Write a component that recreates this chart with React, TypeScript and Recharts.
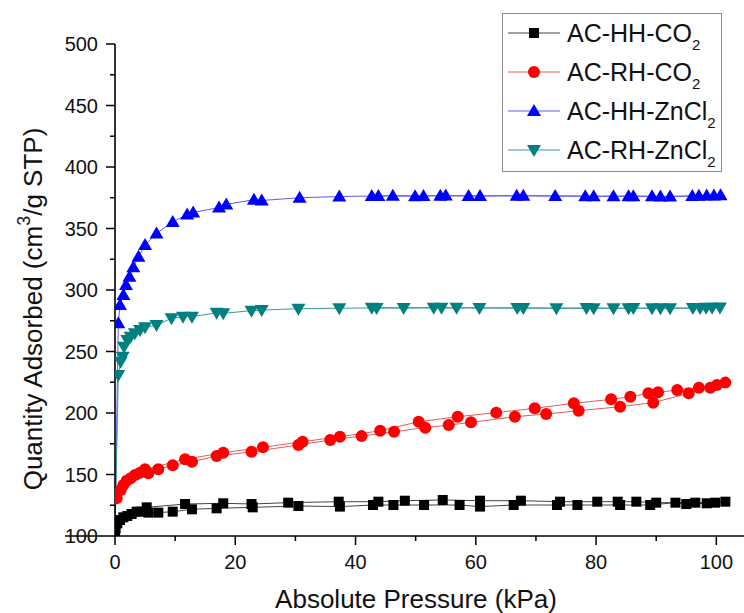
import React from 'react'
import { LineChart, Line, XAxis, YAxis } from 'recharts'

// isotherm points: [pressure kPa, quantity cm3/g STP]
// adsorption branch first, then the desorption branch back down
const acHhCo2: [number, number][] = [
  [0.02, 102], [0.1, 106.2], [0.39, 110.3], [0.83, 113], [1.39, 115.2], [2.05, 116.3],
  [2.77, 117.9], [3.6, 119.8], [4.4, 119.8], [5.55, 119], [7.2, 119], [9.6, 119.8],
  [12.8, 121.7], [16.9, 122.5], [22.9, 123.3], [30.5, 124.4], [37.4, 123.9], [42.9, 125.2],
  [46.3, 125.2], [51.4, 125.2], [57.3, 125.2], [60.7, 123.9], [66.3, 125.2], [73.5, 125.2],
  [76.9, 125.2], [84.0, 125.2], [89.0, 125.2], [93.2, 127.1], [95.0, 126], [98.4, 126.6],
  [101.5, 127.9], [99.8, 127.1], [96.5, 127.1], [90.0, 127.1], [86.7, 127.9], [83.6, 127.9],
  [80.2, 127.9], [74.0, 127.9], [67.5, 128.7], [60.7, 128.7], [54.5, 129.3], [48.2, 128.7],
  [43.8, 127.9], [37.2, 127.9], [28.8, 127.1], [22.7, 126], [18.0, 126.6], [11.65, 126],
  [5.27, 123.3],
]

const acRhCo2: [number, number][] = [
  [0.28, 130.6], [0.95, 137.4], [1.39, 141.5], [1.94, 145], [2.6, 146.9], [3.33, 149.6],
  [4.16, 151.5], [5.55, 151], [7.2, 154.2], [9.6, 157.5], [12.8, 160.4], [16.9, 165],
  [22.7, 168.5], [30.5, 174], [35.8, 178], [41.0, 181.2], [46.4, 184.8], [51.6, 188.1],
  [55.5, 190.2], [59.2, 192.4], [66.5, 197], [71.7, 199.2], [77.1, 201.9], [84.0, 205.1],
  [89.5, 208.4], [95.4, 216], [99.0, 220.6], [101.5, 224.7], [100.1, 222.8], [97.1, 220.6],
  [93.5, 218.7], [90.3, 216.8], [88.7, 216], [85.7, 213.3], [82.5, 211.1], [76.3, 207.9],
  [69.8, 203.8], [63.4, 200.3], [57.0, 197], [50.5, 192.9], [44.1, 185.6], [37.4, 180.7],
  [31.2, 176.7], [24.6, 172.1], [18.0, 167.7], [11.65, 162.4], [4.99, 154.2],
]

const acHhZnCl2: [number, number][] = [
  [0.01, 105], [0.55, 273], [0.83, 287.8], [1.4, 296], [1.83, 304], [2.4, 310.8],
  [3.05, 318.5], [3.9, 327], [5.0, 336.6], [6.9, 346], [9.6, 355.3], [12.0, 361.4],
  [13.0, 363], [17.3, 367.1], [18.5, 369.6], [23.1, 373.4], [24.4, 372.8], [30.7, 375],
  [37.3, 376], [43.8, 376.5], [49.9, 376.3], [54.1, 376.6], [58.8, 376.5], [66.8, 376.6],
  [73.2, 376.4], [78.2, 376.3], [82.9, 376.2], [86.2, 376.3], [90.7, 376], [96.0, 376.5],
  [98.4, 376.8], [100.7, 377], [99.6, 376.8], [97.1, 376.6], [92.3, 376], [89.3, 376.2],
  [85.4, 376.3], [79.6, 376.2], [67.9, 376.7], [60.7, 376.4], [55.0, 376.8], [51.3, 376.5],
  [46.2, 376.7], [42.7, 376.4],
]

const acRhZnCl2: [number, number][] = [
  [0.01, 104], [0.55, 230.9], [0.94, 241.7], [1.28, 245.8], [1.5, 253.9], [2.05, 259.3],
  [2.6, 262], [3.3, 264.8], [4.16, 267.5], [4.99, 269.7], [6.9, 271.5], [9.4, 277],
  [11.3, 278.3], [12.8, 278.3], [16.9, 281.5], [18.0, 281], [22.7, 283.2], [24.4, 283.7],
  [30.5, 284.8], [37.3, 285.2], [43.5, 285.4], [48.0, 285.3], [54.3, 285.5], [60.6, 285.4],
  [67.9, 285.3], [73.4, 285.2], [79.6, 285.2], [85.4, 285.1], [89.3, 285.2], [92.3, 285.2],
  [97.3, 285.4], [99.3, 285.6], [100.6, 285.8], [98.3, 285.5], [96.1, 285.3], [90.7, 285.2],
  [86.2, 285.3], [82.9, 285.2], [78.4, 285.3], [66.9, 285.4], [56.8, 285.5], [53.0, 285.6],
  [42.7, 285.5],
]

const xTicks = [0, 10, 20, 30, 40, 50, 60, 70, 80, 90, 100]
const yTicks = [100, 125, 150, 175, 200, 225, 250, 275, 300, 325, 350, 375, 400, 425, 450, 475, 500]

const FONT = '"Liberation Sans", Arial, sans-serif'

type Shape = 'square' | 'circle' | 'up' | 'down'

const series = [
  { key: 'hhco2', name: 'AC-HH-CO', sub: '2', points: acHhCo2, color: '#000000', line: '#444444', shape: 'square' as Shape, hideFirst: false },
  { key: 'rhco2', name: 'AC-RH-CO', sub: '2', points: acRhCo2, color: '#ff0000', line: '#e85a5a', shape: 'circle' as Shape, hideFirst: false },
  { key: 'hhzn', name: 'AC-HH-ZnCl', sub: '2', points: acHhZnCl2, color: '#0000ff', line: '#5a5aff', shape: 'up' as Shape, hideFirst: true },
  { key: 'rhzn', name: 'AC-RH-ZnCl', sub: '2', points: acRhZnCl2, color: '#008080', line: '#3a9a9a', shape: 'down' as Shape, hideFirst: true },
]

function Marker({ shape, cx, cy, color }: { shape: Shape; cx: number; cy: number; color: string }) {
  if (shape === 'square') return <rect x={cx - 5} y={cy - 5} width={10} height={10} fill={color} />
  if (shape === 'circle') return <circle cx={cx} cy={cy} r={6} fill={color} />
  if (shape === 'up')
    return <polygon points={`${cx},${cy - 7} ${cx - 7},${cy + 5} ${cx + 7},${cy + 5}`} fill={color} />
  return <polygon points={`${cx - 7},${cy - 5} ${cx + 7},${cy - 5} ${cx},${cy + 7}`} fill={color} />
}

const makeDot = (shape: Shape, color: string, hideFirst: boolean) => (props: any) => {
  const { cx, cy, index } = props
  if (cx == null || cy == null || (hideFirst && index === 0)) return <g key={`${shape}-${index}`} />
  return (
    <g key={`${shape}-${index}`}>
      <Marker shape={shape} cx={cx} cy={cy} color={color} />
    </g>
  )
}

const XTick = (props: any) => {
  const { x, y, payload } = props
  const major = payload.value % 20 === 0
  return (
    <g>
      <line x1={x} x2={x} y1={y} y2={y + (major ? 9 : 5)} stroke="#000" strokeWidth={1.5} />
      {major && (
        <text x={x} y={y + 33} textAnchor="middle" fontSize={20} fontFamily={FONT} fill="#111">
          {payload.value}
        </text>
      )}
    </g>
  )
}

const YTick = (props: any) => {
  const { x, y, payload } = props
  const major = payload.value % 50 === 0
  return (
    <g>
      <line x1={x - (payload.value === 100 ? 50 : major ? 9 : 5)} x2={x} y1={y} y2={y} stroke="#000" strokeWidth={1.5} />
      {major && (
        <text x={x - 17} y={y + 7} textAnchor="end" fontSize={20} fontFamily={FONT} fill="#111">
          {payload.value}
        </text>
      )}
    </g>
  )
}

const LegendBox = () => {
  const rows = [20, 59, 98, 137]
  return (
    <svg width={221} height={160} style={{ position: 'absolute', left: 502, top: 13 }}>
      <rect x={0.5} y={0.5} width={219} height={158} fill="#fff" stroke="#8a8a8a" />
      {series.map((s, i) => (
        <g key={s.key}>
          <line x1={6} x2={58} y1={rows[i]} y2={rows[i]} stroke={s.line} strokeWidth={1} />
          <Marker shape={s.shape} cx={32} cy={rows[i]} color={s.color} />
          <text x={65} y={rows[i] + 9} fontSize={25} fontFamily={FONT} fill="#111">
            {s.name}
            <tspan fontSize={15} dy={8}>{s.sub}</tspan>
          </text>
        </g>
      ))}
    </svg>
  )
}

export default function App() {
  // draw the ZnCl2 series underneath, CO2 series on top (legend keeps original order)
  const drawOrder = [series[2], series[3], series[1], series[0]]
  return (
    <div style={{ position: 'absolute', left: 0, top: 0, width: 744, height: 613, background: '#fff' }}>
      <LineChart width={744} height={613} margin={{ top: 44, right: 0, bottom: 0, left: 0 }}>
        <XAxis
          type="number"
          dataKey="x"
          domain={[0, 104.6]}
          ticks={xTicks}
          interval={0}
          allowDataOverflow
          height={77}
          tickSize={0}
          tickMargin={0}
          tickLine={false}
          axisLine={{ stroke: '#000', strokeWidth: 1.6 }}
          tick={<XTick />}
          label={{
            content: () => (
              <text x={416} y={608} textAnchor="middle" fontSize={26} fontFamily={FONT} fill="#111">
                Absolute Pressure (kPa)
              </text>
            ),
          }}
        />
        <YAxis
          type="number"
          dataKey="y"
          domain={[100, 500]}
          ticks={yTicks}
          interval={0}
          allowDataOverflow
          width={115}
          tickSize={0}
          tickMargin={0}
          tickLine={false}
          axisLine={{ stroke: '#000', strokeWidth: 1.6 }}
          tick={<YTick />}
          label={{
            content: () => (
              <text
                x={42}
                y={309}
                transform="rotate(-90, 42, 309)"
                textAnchor="middle"
                fontSize={26}
                fontFamily={FONT}
                fill="#111"
              >
                Quantity Adsorbed (cm
                <tspan fontSize={18} dy={-12}>3</tspan>
                <tspan dy={12}>/g STP)</tspan>
              </text>
            ),
          }}
        />
        {drawOrder.map((s) => (
          <Line
            key={s.key}
            data={s.points.map(([x, y]) => ({ x, y }))}
            dataKey="y"
            name={s.name + s.sub}
            type="linear"
            stroke={s.line}
            strokeWidth={1}
            dot={makeDot(s.shape, s.color, s.hideFirst)}
            activeDot={false}
            isAnimationActive={false}
          />
        ))}
      </LineChart>
      <LegendBox />
    </div>
  )
}
